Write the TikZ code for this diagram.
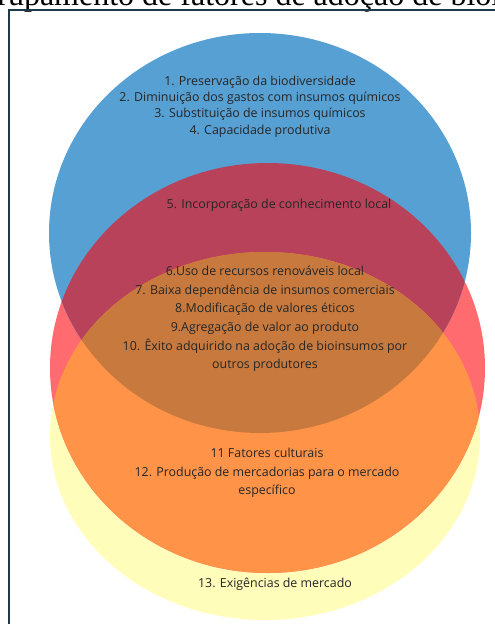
\documentclass[tikz,border=0pt]{standalone}
\usepackage{fontspec}
\setmainfont{Liberation Serif}
\newfontfamily\vennfont{Open Sans}
\definecolor{VennBlue}{HTML}{57A0D3}
\definecolor{VennRed}{HTML}{FF6B6E}
\definecolor{VennYellow}{HTML}{FFFDB9}
\definecolor{VennPlum}{HTML}{B7425A}
\definecolor{VennOrange}{HTML}{FF9449}
\definecolor{VennBrown}{HTML}{C87A3E}
\definecolor{FrameSlate}{HTML}{1D3A48}
\usetikzlibrary{positioning}

\begin{document}
\begin{tikzpicture}[x=0.75pt,y=-0.75pt]
\tikzstyle{lbl}=[align=center,inner sep=0pt,text=black!85,font=\vennfont\fontsize{9.3}{12.2}\selectfont]
\tikzstyle{lblwide}=[lbl,font=\vennfont\fontsize{9.3}{14}\selectfont]
\useasboundingbox (0,0) rectangle (495,624);
\clip (0,0) rectangle (495,624);
% title and frame, cut by the page
\node[anchor=base west,inner sep=0pt,font=\fontsize{24}{28}\selectfont] (title) at (-42,6) {Agrupamento de fatores de adoção de bioinsumos};
\draw[FrameSlate,line width=1.5pt] (9,10.5) rectangle (530,660);
% the three sets
\fill[VennYellow] (265,436) ellipse [x radius=215,y radius=184];
\fill[VennRed] (267.5,368) ellipse [x radius=217.5,y radius=205];
\fill[VennBlue] (260,233) ellipse [x radius=211,y radius=200];
\begin{scope}
\clip (260,233) ellipse [x radius=211,y radius=200];
\fill[VennPlum] (267.5,368) ellipse [x radius=217.5,y radius=205];
\end{scope}
\begin{scope}
\clip (267.5,368) ellipse [x radius=217.5,y radius=205];
\fill[VennOrange] (265,436) ellipse [x radius=215,y radius=184];
\clip (260,233) ellipse [x radius=211,y radius=200];
\fill[VennBrown] (265,436) ellipse [x radius=215,y radius=184];
\end{scope}
% factors
\node[lbl] (ambiente) at (260,106.5) {1. Preservação da biodiversidade\\2. Diminuição dos gastos com insumos químicos\\3. Substituição de insumos químicos\\4. Capacidade produtiva};
\node[lbl] (saber) at (279,205) {5. Incorporação de conhecimento local};
\node[lblwide] (comum) at (265,319) {6.Uso de recursos renováveis local\\7. Baixa dependência de insumos comerciais\\8.Modificação de valores éticos\\9.Agregação de valor ao produto\\10. Êxito adquirido na adoção de bioinsumos por\\outros produtores};
\node[lblwide] (cultura) at (267,473) {11 Fatores culturais\\12. Produção de mercadorias para o mercado\\específico};
\node[lbl] (mercado) at (275,584) {13. Exigências de mercado};
\end{tikzpicture}
\end{document}
